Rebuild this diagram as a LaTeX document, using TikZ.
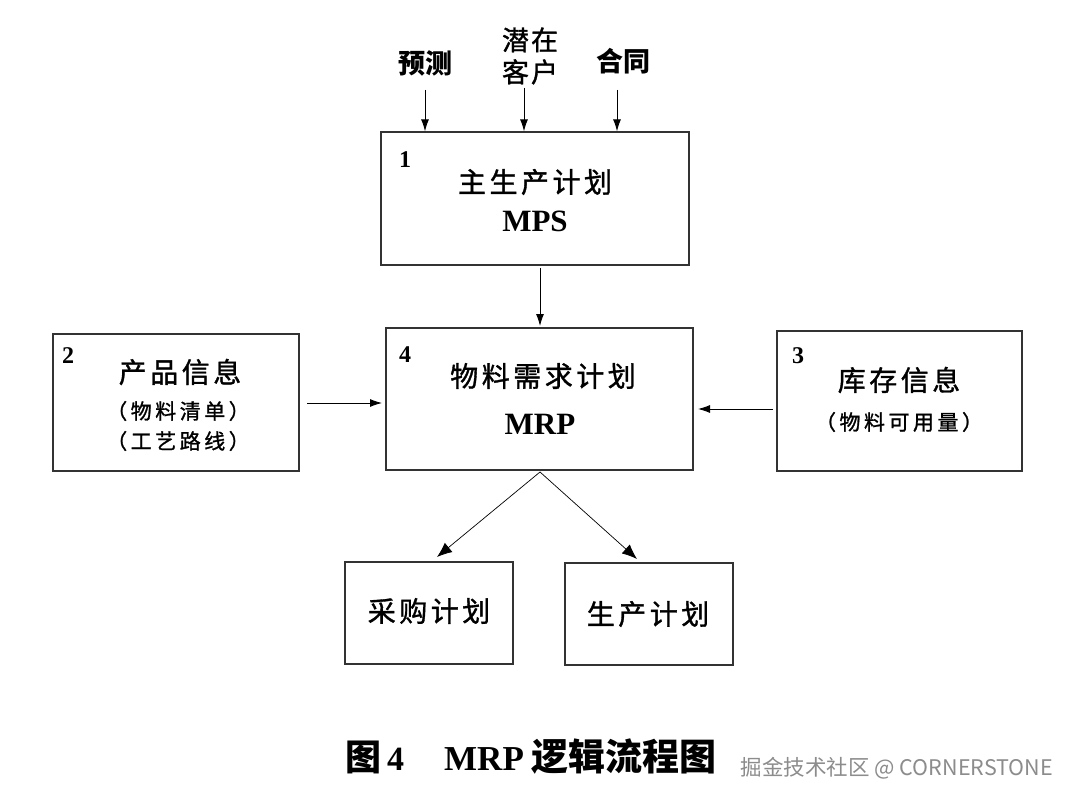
\documentclass[tikz,border=0pt]{standalone}
\usepackage{fontspec}
\usetikzlibrary{arrows.meta}
\setmainfont{Liberation Serif}
\newfontfamily\cjk{Noto Sans CJK SC}
\newfontfamily\cjkm[FakeBold=1.2]{Noto Sans CJK SC}
\newfontfamily\wmfont{Noto Sans CJK SC}
\newcommand\gp{\hspace{3.5pt}}
\tikzset{
  box/.style={draw=black!80, line width=1.3pt, inner sep=0pt, fill=white},
  lbl/.style={inner sep=0pt, font=\cjkm\fontsize{28}{30}\selectfont},
  sub/.style={inner sep=0pt, font=\cjkm\fontsize{21}{24}\selectfont},
  num/.style={inner sep=0pt, font=\bfseries\fontsize{24}{26}\selectfont},
  eng/.style={inner sep=0pt, font=\bfseries\fontsize{31}{34}\selectfont},
  top/.style={inner sep=0pt, font=\cjk\bfseries\fontsize{27}{31}\selectfont},
  topr/.style={inner sep=0pt, font=\cjkm\fontsize{27}{32}\selectfont},
  arr/.style={-{Latex[length=12pt,width=8pt]}, line width=0.9pt},
  arrb/.style={-{Latex[length=15pt,width=12pt]}, line width=0.7pt},
}
\begin{document}
\begin{tikzpicture}[x=1pt,y=-1pt]
\useasboundingbox[fill=white] (0,0) rectangle (1076,802);
% boxes
\node[box, minimum width=308pt, minimum height=133pt] (b1) at (535,198.5) {};
\node[box, minimum width=246pt, minimum height=137pt] (b2) at (176,402.5) {};
\node[box, minimum width=307pt, minimum height=142pt] (b4) at (539.5,399) {};
\node[box, minimum width=245pt, minimum height=140pt] (b3) at (899.5,401) {};
\node[box, minimum width=168pt, minimum height=102pt] (b5) at (429,613) {};
\node[box, minimum width=168pt, minimum height=102pt] (b6) at (649,614) {};
% box texts
\node[num] (n1) at (405,160) {1};
\node[lbl] (t1a) at (535,182) {主\gp 生\gp 产\gp 计\gp 划};
\node[eng] (t1b) at (535,221) {MPS};
\node[num] (n4) at (405,355) {4};
\node[lbl] (t4a) at (543,376) {物\gp 料\gp 需\gp 求\gp 计\gp 划};
\node[eng] (t4b) at (540,424) {MRP};
\node[num] (n2) at (68,356) {2};
\node[lbl] (t2a) at (180,372) {产\gp 品\gp 信\gp 息};
\node[sub] (t2b) at (178,411) {（\gp 物\gp 料\gp 清\gp 单\gp ）};
\node[sub] (t2c) at (178,441) {（\gp 工\gp 艺\gp 路\gp 线\gp ）};
\node[num] (n3) at (798,356) {3};
\node[lbl] (t3a) at (899,380) {库\gp 存\gp 信\gp 息};
\node[sub] (t3b) at (899,422) {（\gp 物\gp 料\gp 可\gp 用\gp 量\gp ）};
\node[lbl] (t5) at (429,611) {采\gp 购\gp 计\gp 划};
\node[lbl] (t6) at (648,614) {生\gp 产\gp 计\gp 划};
% top inputs
\node[top] (i1) at (425,63) {预测};
\node[topr, align=center] (i2) at (530,56) {潜\hspace{2pt}在\\客\hspace{2pt}户};
\node[top] (i3) at (623,61) {合同};
\coordinate (s1) at (425,90);
\coordinate (s2) at (524,88);
\coordinate (s3) at (617,90);
\draw[arr] (s1) -- (s1 |- b1.north);
\draw[arr] (s2) -- (s2 |- b1.north);
\draw[arr] (s3) -- (s3 |- b1.north);
% connections
\draw[arr] (540,268) -- (540,326);
\draw[arr] (307,403) -- (382,403);
\draw[arr] (773,409) -- (698,409);
\coordinate (fork) at (540,472);
\draw[arrb] (fork) -- (437,557);
\draw[arrb] (fork) -- (637,559);
% caption
\node[inner sep=0pt, anchor=west] (cap) at (345,757)
  {{\cjk\bfseries\fontsize{36}{40}\selectfont 图}\hspace{6pt}{\bfseries\fontsize{34}{38}\selectfont 4}\hspace{40pt}{\bfseries\fontsize{35}{38}\selectfont MRP}\hspace{8pt}{\cjk\bfseries\fontsize{37}{40}\selectfont 逻辑流程图}};
% watermark
\node[inner sep=0pt, anchor=east, text=black!45, font=\wmfont\fontsize{21.5}{26}\selectfont] (wm) at (1053,768) {掘金技术社区 @ CORNERSTONE};
\end{tikzpicture}
\end{document}
